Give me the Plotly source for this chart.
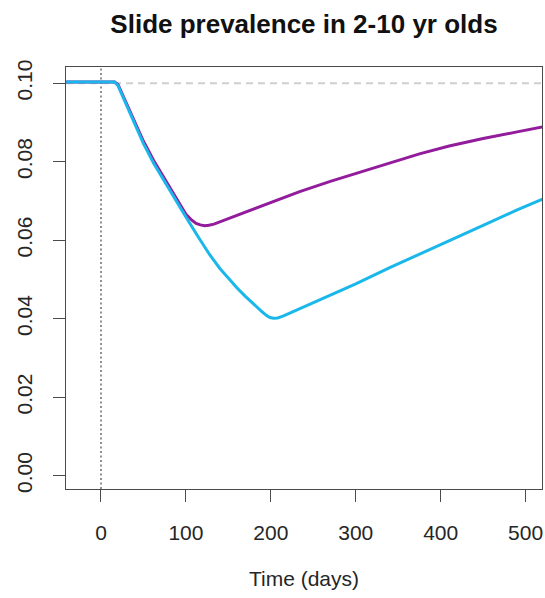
import plotly.graph_objects as go

# Slide prevalence (2-10 yr olds) over time for two intervention scenarios
days_a = [-41, 0, 16, 20, 25, 32, 40, 50, 62, 75, 88, 100, 107, 112, 117, 122, 127,
          133, 150, 175, 200, 234, 270, 300, 340, 375, 410, 450, 490, 520]
prev_a = [0.1003, 0.1003, 0.1003, 0.0997, 0.0973, 0.0938, 0.0898, 0.0852, 0.0803,
          0.0757, 0.0711, 0.0666, 0.0651, 0.0643, 0.0639, 0.0637, 0.0638, 0.0641,
          0.0655, 0.0676, 0.0697, 0.0724, 0.0750, 0.0770, 0.0797, 0.0820, 0.0840,
          0.0859, 0.0876, 0.0889]

days_b = [-41, 0, 16, 20, 25, 32, 40, 50, 62, 75, 88, 100, 114, 128, 140, 150, 160,
          170, 180, 190, 195, 199, 203, 208, 215, 234, 260, 300, 340, 375, 410, 450,
          490, 520]
prev_b = [0.1003, 0.1003, 0.1003, 0.0994, 0.0969, 0.0934, 0.0893, 0.0846, 0.0796,
          0.0748, 0.0702, 0.0659, 0.0610, 0.0563, 0.0528, 0.0503, 0.0479, 0.0457,
          0.0436, 0.0417, 0.0408, 0.0403, 0.0401, 0.0402, 0.0407, 0.0425, 0.0450,
          0.0489, 0.0530, 0.0565, 0.0600, 0.0638, 0.0677, 0.0705]

baseline = 0.10
x_ticks = [0, 100, 200, 300, 400, 500]
y_ticks = [0.00, 0.02, 0.04, 0.06, 0.08, 0.10]
y_tick_text = ["0.00", "0.02", "0.04", "0.06", "0.08", "0.10"]

x_range = [-41.2, 519.3]
y_range = [-0.0034, 0.10414]

FONT = "Liberation Sans, Arial, Helvetica, sans-serif"

fig = go.Figure()

# reference level and intervention start
fig.add_trace(go.Scatter(x=x_range, y=[baseline, baseline], mode="lines",
                         line=dict(color="#cfcfcf", width=2, dash="7px,5px"),
                         hoverinfo="skip", showlegend=False))
fig.add_trace(go.Scatter(x=[0, 0], y=y_range, mode="lines",
                         line=dict(color="#555555", width=1.3, dash="2px,2.5px"),
                         hoverinfo="skip", showlegend=False))

fig.add_trace(go.Scatter(x=days_a, y=prev_a, mode="lines",
                         line=dict(color="#921c9c", width=3), showlegend=False))
fig.add_trace(go.Scatter(x=days_b, y=prev_b, mode="lines",
                         line=dict(color="#1ab8ea", width=3), showlegend=False))

axis_common = dict(showline=True, mirror=True, linecolor="#4a4a4a", linewidth=1.3,
                   showgrid=False, zeroline=False, ticks="outside", ticklen=12,
                   tickwidth=1.3, tickcolor="#4a4a4a",
                   tickfont=dict(family=FONT, size=21, color="#262626"))

fig.update_xaxes(range=x_range, tickvals=x_ticks, ticklabelstandoff=13,
                 title=dict(text="Time (days)", standoff=27,
                            font=dict(family=FONT, size=21, color="#262626")),
                 **axis_common)
fig.update_yaxes(range=y_range, tickvals=y_ticks, ticktext=y_tick_text,
                 tickangle=-90, ticklabelstandoff=12, **axis_common)

fig.update_layout(
    width=545, height=598,
    margin=dict(l=66, r=3, t=67, b=109),
    paper_bgcolor="white", plot_bgcolor="white",
    title=dict(text="<b>Slide prevalence in 2-10 yr olds</b>",
               x=304 / 545, xanchor="center", y=1 - 24 / 598, yanchor="middle",
               font=dict(family=FONT, size=26, color="#111111")),
)

fig.write_html("out.html")
